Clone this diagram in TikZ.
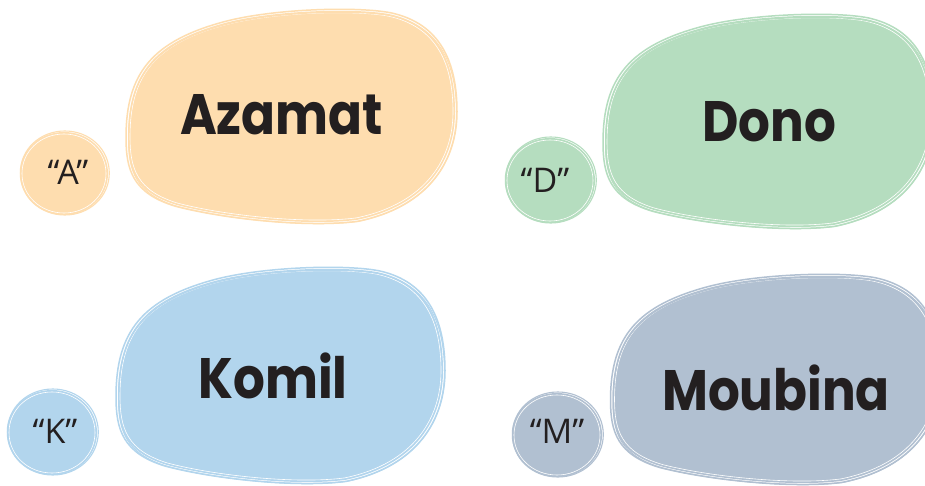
\documentclass[tikz,border=0pt]{standalone}
\usepackage{fontspec}
\newfontfamily\quotefont{Open Sans}
\newfontfamily\namefont{Poppins}[UprightFont=* Bold]
\definecolor{cpeach}{HTML}{FEDDAF}
\definecolor{cgreen}{HTML}{B5DDBF}
\definecolor{cblue}{HTML}{B2D5ED}
\definecolor{cslate}{HTML}{B1C0D1}
\definecolor{ink}{HTML}{231F20}
\newcommand\blobpath{(-0.5,0.1) .. controls (-0.5,-0.2) and (-0.42,-0.35) .. (-0.2,-0.44)
 .. controls (-0.05,-0.5) and (0.2,-0.51) .. (0.3,-0.48)
 .. controls (0.45,-0.43) and (0.5,-0.25) .. (0.5,-0.02)
 .. controls (0.5,0.2) and (0.42,0.42) .. (0.2,0.49)
 .. controls (0.05,0.52) and (-0.2,0.48) .. (-0.35,0.42)
 .. controls (-0.48,0.36) and (-0.5,0.25) .. cycle}
\newcommand\circpath{(-0.5,0) .. controls (-0.5,-0.28) and (-0.28,-0.5) .. (0,-0.5)
 .. controls (0.28,-0.5) and (0.5,-0.28) .. (0.5,0)
 .. controls (0.5,0.28) and (0.28,0.5) .. (0,0.5)
 .. controls (-0.28,0.5) and (-0.5,0.28) .. cycle}
% #1 cx, #2 cy, #3 w, #4 h, #5 colour
\newcommand\blob[5]{%
 \pgfmathsetmacro\wa{#3-4}\pgfmathsetmacro\ha{#4-4}%
 \pgfmathsetmacro\wb{#3+4}\pgfmathsetmacro\hb{#4+3}%
 \pgfmathsetmacro\wc{#3+1}%
 \path[fill=#5, shift={(#1pt,-#2pt)}, x=#3pt, y=-#4pt] \blobpath;
 \path[draw=white, line width=0.6pt, shift={(#1pt,-#2pt)}, x=\wa pt, y=-\ha pt] \blobpath;
 \path[draw=#5, line width=1.5pt, shift={(#1pt,-#2pt)}, x=\wb pt, y=-\hb pt] \blobpath;
 \path[draw=#5, line width=1pt, shift={(#1pt+1pt,-#2pt-1.5pt)}, x=\wc pt, y=-#4pt] \blobpath;}
\newcommand\circblob[5]{%
 \pgfmathsetmacro\wa{#3-4}\pgfmathsetmacro\ha{#4-4}%
 \pgfmathsetmacro\wb{#3+1}\pgfmathsetmacro\hb{#4+1}%
 \path[fill=#5, shift={(#1pt,-#2pt)}, x=#3pt, y=-#4pt] \circpath;
 \path[draw=white, line width=0.6pt, shift={(#1pt,-#2pt)}, x=\wa pt, y=-\ha pt] \circpath;
 \path[draw=#5, line width=1.1pt, shift={(#1pt+0.8pt,-#2pt+0.5pt)}, x=\wb pt, y=-\hb pt] \circpath;}
\newcommand\tallname[1]{\scalebox{1}[1.14]{#1}}
\tikzset{
 namelabel/.style={inner sep=0pt, text=ink, font=\namefont\fontsize{50}{50}\selectfont},
 letterlabel/.style={inner sep=0pt, text=ink, font=\quotefont\fontsize{34}{34}\selectfont}
}
\begin{document}
\begin{tikzpicture}[x=1pt,y=-1pt]
\useasboundingbox (0,0) rectangle (925,486);
\fill[white] (0,0) rectangle (925,486);
% blobs
\blob{291.5}{116}{327}{212}{cpeach}
\blob{768.5}{121}{327}{212}{cgreen}
\blob{280.5}{375}{325}{214}{cblue}
\blob{776}{379}{327}{208}{cslate}
% small circles
\circblob{64}{173.5}{88}{83}{cpeach}
\circblob{550}{180.5}{90}{85}{cgreen}
\circblob{52}{432.5}{90}{85}{cblue}
\circblob{557}{435}{90}{84}{cslate}
% names
\node[namelabel] (azamat) at (281.5,115) {\tallname{Azamat}};
\node[namelabel] (dono) at (769,122) {\tallname{Dono}};
\node[namelabel] (komil) at (273,376) {\tallname{Komil}};
\node[namelabel] (moubina) at (776,388) {\tallname{Moubina}};
% letters
\node[letterlabel] (la) at (68,172.5) {“A”};
\node[letterlabel] (ld) at (545,180) {“D”};
\node[letterlabel] (lk) at (55,431) {“K”};
\node[letterlabel] (lm) at (557,431) {“M”};
\end{tikzpicture}
\end{document}
